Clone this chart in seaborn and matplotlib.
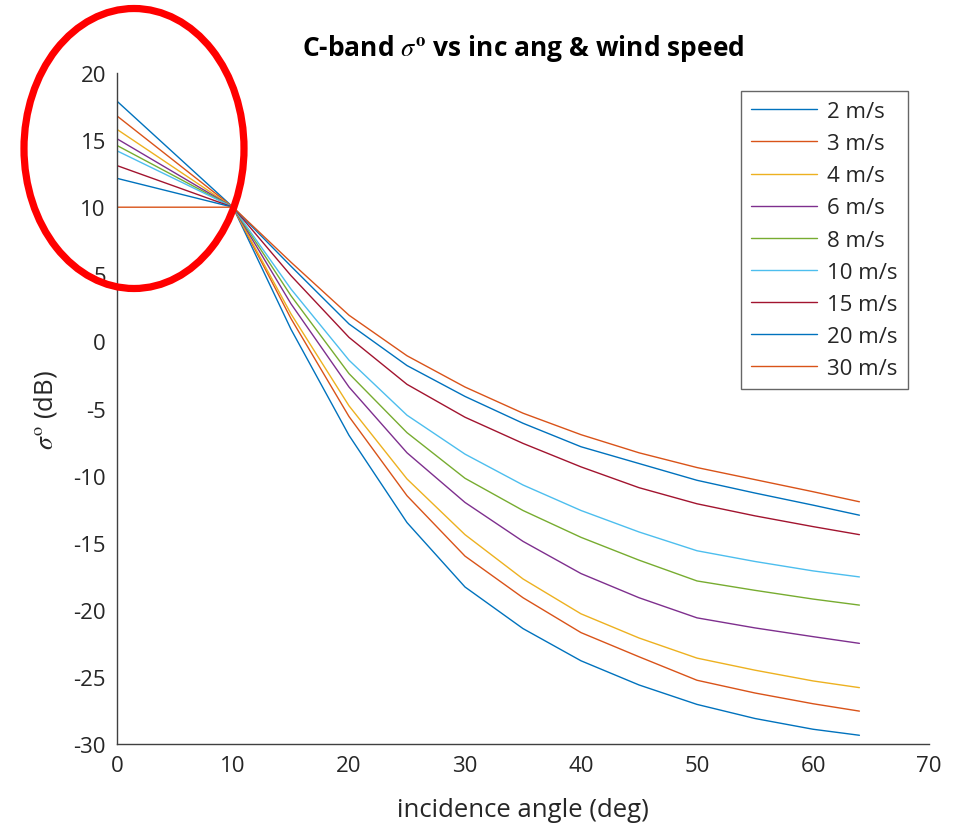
import numpy as np
import pandas as pd
import seaborn as sns
import matplotlib
matplotlib.use("Agg")
import matplotlib.pyplot as plt
from matplotlib.patches import Ellipse

# ---- data ----
angles = [0, 10, 15, 20, 25, 30, 35, 40, 45, 50, 55, 60, 64]
speeds = ["2 m/s", "3 m/s", "4 m/s", "6 m/s", "8 m/s", "10 m/s", "15 m/s", "20 m/s", "30 m/s"]
s2 = [17.9, 10, 0.9, -7.0, -13.5, -18.3, -21.4, -23.8, -25.6, -27.05, -28.1, -28.9, -29.35]
s3 = [16.8, 10, 1.7, -5.6, -11.5, -16.0, -19.1, -21.7, -23.5, -25.25, -26.2, -27.0, -27.55]
s4 = [15.8, 10, 2.05, -4.8, -10.25, -14.4, -17.7, -20.3, -22.1, -23.6, -24.5, -25.3, -25.8]
s6 = [15.1, 10, 2.8, -3.4, -8.3, -12.0, -14.9, -17.3, -19.1, -20.6, -21.35, -22.0, -22.5]
s8 = [14.6, 10, 3.4, -2.4, -6.8, -10.2, -12.6, -14.6, -16.3, -17.85, -18.55, -19.2, -19.65]
s10 = [14.2, 10, 3.9, -1.4, -5.5, -8.4, -10.7, -12.6, -14.2, -15.6, -16.4, -17.1, -17.55]
s15 = [13.1, 10, 4.9, 0.3, -3.2, -5.65, -7.6, -9.35, -10.9, -12.1, -13.0, -13.8, -14.4]
s20 = [12.15, 10, 5.6, 1.3, -1.8, -4.1, -6.1, -7.85, -9.1, -10.35, -11.3, -12.2, -12.95]
s30 = [10.0, 10, 5.9, 1.95, -1.07, -3.4, -5.35, -6.95, -8.3, -9.4, -10.3, -11.2, -11.95]
series = [s2, s3, s4, s6, s8, s10, s15, s20, s30]
xticks = [0, 10, 20, 30, 40, 50, 60, 70]
yticks = [-30, -25, -20, -15, -10, -5, 0, 5, 10, 15, 20]

colors = ["#0072BD", "#D95319", "#EDB120", "#7E2F8E", "#77AC30",
          "#4DBEEE", "#A2142F", "#0072BD", "#D95319"]

rows = []
for sp, vals in zip(speeds, series):
    for a, v in zip(angles, vals):
        rows.append({"angle": a, "sigma": v, "speed": sp})
df = pd.DataFrame(rows)

sns.set_style("white")
plt.rcParams["font.family"] = ["Open Sans", "DejaVu Sans"]
plt.rcParams["mathtext.fontset"] = "stix"
plt.rcParams["axes.unicode_minus"] = False

fig = plt.figure(figsize=(9.55, 8.29), dpi=100)
ax = fig.add_axes([117/955, 1-745/829, (929-117)/955, (745-74)/829])

sns.lineplot(data=df, x="angle", y="sigma", hue="speed", hue_order=speeds,
             palette=colors, estimator=None, sort=False, linewidth=1.0, ax=ax)

ax.set_xlim(0, 70)
ax.set_ylim(-30, 20)
ax.set_xticks(xticks)
ax.set_yticks(yticks)
ax.set_xticklabels([str(t) for t in xticks])
ax.set_yticklabels([str(t) for t in yticks])
for s in ["top", "right"]:
    ax.spines[s].set_visible(False)
for s in ["left", "bottom"]:
    ax.spines[s].set_color("#404040")
    ax.spines[s].set_linewidth(1.0)
ax.tick_params(direction="in", length=7, width=1.0, color="#404040",
               labelsize=16, labelcolor="#262626", pad=8)

ax.set_xlabel("incidence angle (deg)", fontsize=18.5, color="#262626", labelpad=15)
ax.set_ylabel(r"$\sigma^{\mathrm{o}}$ (dB)", fontsize=18.5, color="#262626", labelpad=10)
ax.set_title(r"C-band $\sigma^{\mathbf{o}}$ vs inc ang & wind speed",
             fontsize=19, fontweight="bold", color="#000000", pad=13)

handles, labels = ax.get_legend_handles_labels()
leg = ax.legend(handles, labels, loc="upper right", bbox_to_anchor=(0.974, 0.973),
                borderaxespad=0, fontsize=16, handlelength=3.0, handletextpad=0.45,
                labelspacing=0.5, frameon=True, fancybox=False, borderpad=0.45)
leg.get_frame().set_edgecolor("#404040")
leg.get_frame().set_linewidth(1.0)
for t in leg.get_texts():
    t.set_color("#262626")
for l in leg.get_lines():
    l.set_linewidth(1.0)

ell = Ellipse((134/955, 1-149.5/829), 220/955, 280/829,
              transform=fig.transFigure, fill=False, edgecolor="#FF0000",
              linewidth=5.2, zorder=10)
fig.add_artist(ell)

fig.savefig("out.png", dpi=100)
